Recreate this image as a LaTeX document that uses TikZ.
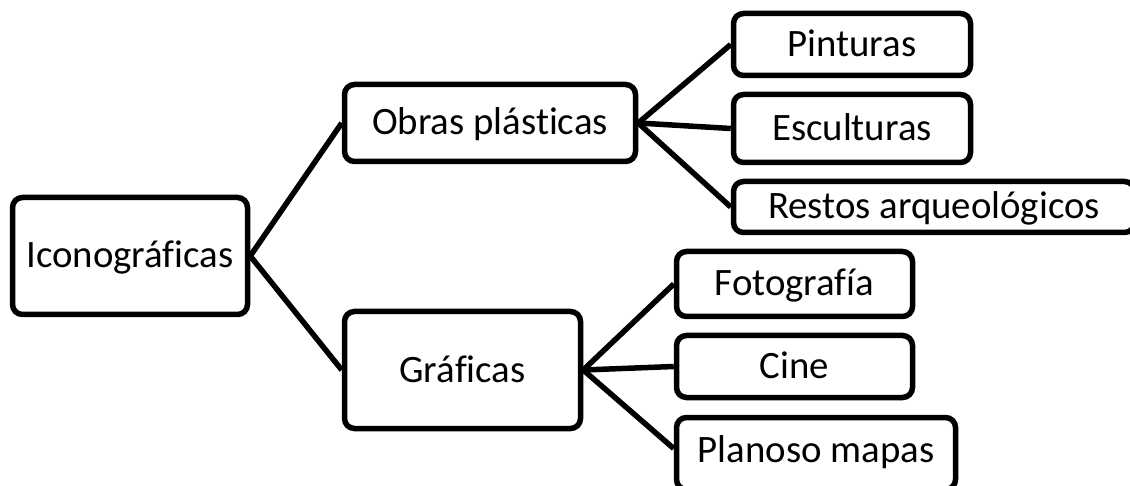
\documentclass[tikz,border=0pt]{standalone}
\usepackage{fontspec}
\setmainfont{Carlito}[RawFeature={-liga}]
\tikzset{
  boxnode/.style={draw=black,line width=5.5pt,rounded corners=10pt,fill=white,align=center,inner sep=0pt,
    text height=28.5pt,text depth=4.5pt,font=\fontsize{38.8}{42}\selectfont},
  link/.style={draw=black,line width=5.5pt}
}
\newcommand{\bx}[6]{\node[boxnode,minimum width=#4pt,minimum height=#5pt] (#1) at (#2pt,-#3pt) {#6};}
\begin{document}
\begin{tikzpicture}[x=1pt,y=1pt]
\useasboundingbox (0,-486) rectangle (1130,0);
\clip (0,-486) rectangle (1130,0);
\bx{ico}{130}{256}{235}{117}{Iconográficas}
\bx{obr}{490}{123}{291}{77}{Obras plásticas}
\bx{gra}{462.5}{370}{236}{117}{Gráficas}
\bx{pin}{852}{44.5}{237}{62}{Pinturas}
\bx{esc}{852}{128.5}{237}{68}{Esculturas}
\bx{res}{934}{207}{401}{51}{Restos arqueológicos}
\bx{fot}{794.5}{284}{236}{65}{Fotografía}
\bx{cin}{794.5}{366.5}{236}{62}{Cine}
\node[boxnode,text height=27pt,text depth=9pt,minimum width=279pt,minimum height=72pt] (pla) at (816pt,-453.5pt) {Planoso mapas};
\draw[link] (ico.east) -- (obr.west);
\draw[link] (ico.east) -- (gra.west);
\draw[link] (obr.east) -- (pin.west);
\draw[link] (obr.east) -- (esc.west);
\draw[link] (obr.east) -- (res.west);
\draw[link] (gra.east) -- (fot.west);
\draw[link] (gra.east) -- (cin.west);
\draw[link] (gra.east) -- (pla.178.5);
\end{tikzpicture}
\end{document}
